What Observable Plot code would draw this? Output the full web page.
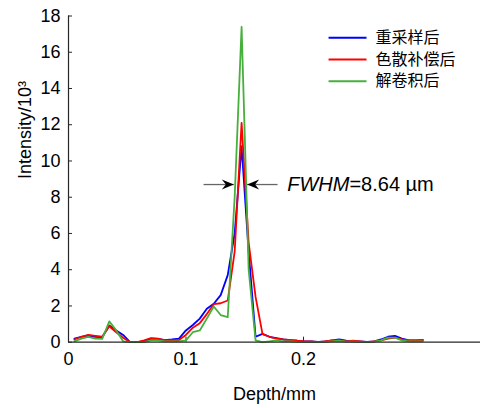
<!DOCTYPE html>
<html><head><meta charset="utf-8">
<script src="https://cdn.jsdelivr.net/npm/d3@7"></script>
<script src="https://cdn.jsdelivr.net/npm/@observablehq/plot@0.6"></script>
<style>body{margin:0;background:#fff}</style>
</head><body><div id="chart"></div>
<script>
const depth = [0.0050,0.0109,0.0169,0.0228,0.0287,0.0347,0.0406,0.0465,0.0524,0.0584,
  0.0643,0.0702,0.0762,0.0821,0.0880,0.0940,0.0999,0.1058,0.1117,0.1177,
  0.1236,0.1295,0.1355,0.1414,0.1473,0.1533,0.1592,0.1651,0.1710,0.1770,
  0.1829,0.1888,0.1948,0.2007,0.2066,0.2126,0.2185,0.2244,0.2303,0.2363,
  0.2422,0.2481,0.2541,0.2600,0.2659,0.2719,0.2778,0.2837,0.2897,0.2956,0.3015];
const resampled = [0.2,0.3,0.37,0.3,0.28,0.92,0.65,0.4,0,0,
  0.05,0.2,0.18,0.12,0.15,0.2,0.65,0.95,1.3,1.85,
  2.12,2.6,3.7,6.0,10.8,5.0,0.3,0.46,0.3,0.22,
  0.15,0.12,0.08,0.05,0.05,0.02,0.05,0.1,0.15,0.08,
  0.05,0.05,0.02,0.05,0.15,0.3,0.35,0.2,0.1,0.1,0.12];
const dispersion = [0.15,0.3,0.4,0.35,0.3,0.88,0.55,0.25,0,0,
  0.1,0.22,0.2,0.1,0.12,0.12,0.4,0.8,1.05,1.55,
  2.1,2.15,2.3,5.0,12.1,5.5,2.5,0.45,0.3,0.2,
  0.15,0.12,0.08,0.05,0.05,0,0.05,0.1,0.12,0.05,
  0.08,0.05,0,0.05,0.1,0.2,0.25,0.15,0.1,0.1,0.12];
const deconv = [0.05,0.2,0.3,0.2,0.18,1.15,0.65,0.05,0,0,
  0,0.1,0.1,0.05,0.05,0.05,0.1,0.55,0.65,1.3,
  1.97,1.5,1.38,8.0,17.4,4.0,0.1,0,0.05,0.1,
  0.05,0.05,0.02,0,0,0,0.02,0.05,0.08,0.03,
  0.03,0.02,0,0.03,0.1,0.25,0.25,0.1,0.05,0.05,0.05];
const seriesNames = ["重采样后","色散补偿后","解卷积后"];
const seriesColors = ["#0000ff","#ff0000","#47b03c"];
const yTicks = [0,2,4,6,8,10,12,14,16,18];
const xTicks = [0,0.1,0.2];
const xTickLabels = ["0","0.1","0.2"];
const xLabel = "Depth/mm";
const yLabel = "Intensity/10³";
const fwhmLabel = "FWHM=8.64 µm";
const fwhmArrows = [{tail:0.1149, tip:0.1407}, {tail:0.1779, tip:0.1520}];
const fwhmTextX = 0.1861;
const legendX = [0.2213, 0.2536, 0.2613];
const legendY = [16.8, 15.6, 14.4];

const rows = [];
[resampled, dispersion, deconv].forEach((vals, s) =>
  vals.forEach((v, i) => rows.push({depth: depth[i], value: v, series: seriesNames[s]})));
const halfMax = d3.max(deconv) / 2;

const headRight = {draw(ctx){ctx.moveTo(0,0);ctx.lineTo(-12,-5);ctx.lineTo(-8,0);ctx.lineTo(-12,5);ctx.closePath();}};
const headLeft = {draw(ctx){ctx.moveTo(0,0);ctx.lineTo(12,-5);ctx.lineTo(8,0);ctx.lineTo(12,5);ctx.closePath();}};
const axisColor = "#262626";

const chart = Plot.plot({
  width: 481, height: 408,
  marginLeft: 68, marginRight: 1, marginTop: 15.5, marginBottom: 66.3,
  style: {fontFamily: "'Liberation Sans', Arial, 'Noto Sans CJK SC', sans-serif", color: "#000", background: "#fff"},
  x: {domain: [0, 0.3506]},
  y: {domain: [0, 18]},
  color: {domain: seriesNames, range: seriesColors},
  marks: [
    Plot.axisY({ticks: yTicks, tickSize: 0, tickPadding: 8, fontSize: 18, label: null}),
    Plot.axisY({ticks: yTicks, tickSize: 4, dx: 4, tickFormat: () => "", label: null, stroke: axisColor}),
    Plot.axisX({ticks: xTicks, tickSize: 0, tickPadding: 10, fontSize: 18, label: null,
      tickFormat: d => xTickLabels[xTicks.indexOf(d)]}),
    Plot.axisX({ticks: xTicks, tickSize: 5, dy: -5, tickFormat: () => "", label: null, stroke: axisColor}),
    Plot.lineY(rows, {x: "depth", y: "value", stroke: "series", z: "series", strokeWidth: 1.8}),
    Plot.ruleX([0], {y1: 0, y2: 18, stroke: axisColor, strokeWidth: 1.2}),
    Plot.ruleY([0], {stroke: axisColor, strokeWidth: 1.2}),
    Plot.link(seriesNames, {x1: legendX[0], x2: legendX[1], y1: (d, i) => legendY[i], y2: (d, i) => legendY[i], stroke: d => d, strokeWidth: 2}),
    Plot.text(seriesNames, {x: legendX[2], y: (d, i) => legendY[i], text: d => d, textAnchor: "start", fontSize: 16, fill: "#000"}),
    Plot.link(fwhmArrows, {x1: "tail", x2: "tip", y1: halfMax, y2: halfMax, stroke: "#666", strokeWidth: 1.3}),
    Plot.dot([fwhmArrows[0]], {x: "tip", y: halfMax, symbol: headRight, fill: "#000", stroke: "none", r: 5}),
    Plot.dot([fwhmArrows[1]], {x: "tip", y: halfMax, symbol: headLeft, fill: "#000", stroke: "none", r: 5}),
    Plot.text([fwhmLabel], {x: fwhmTextX, y: halfMax, text: d => d, textAnchor: "start", fontSize: 20, fill: "#000"}),
    Plot.text([yLabel], {frameAnchor: "left", dx: -43, rotate: -90, text: d => d, fontSize: 18, fill: "#000"}),
    Plot.text([xLabel], {frameAnchor: "bottom", dy: 58, text: d => d, fontSize: 18, fill: "#000"})
  ]
});
document.getElementById("chart").appendChild(chart);
chart.querySelectorAll("text").forEach(t => {
  if (t.textContent === fwhmLabel) {
    t.textContent = "";
    const a = document.createElementNS("http://www.w3.org/2000/svg", "tspan");
    a.setAttribute("font-style", "italic");
    a.textContent = "FWHM";
    const b = document.createElementNS("http://www.w3.org/2000/svg", "tspan");
    b.textContent = fwhmLabel.slice(4);
    t.appendChild(a); t.appendChild(b);
  }
});
</script>
</body></html>
